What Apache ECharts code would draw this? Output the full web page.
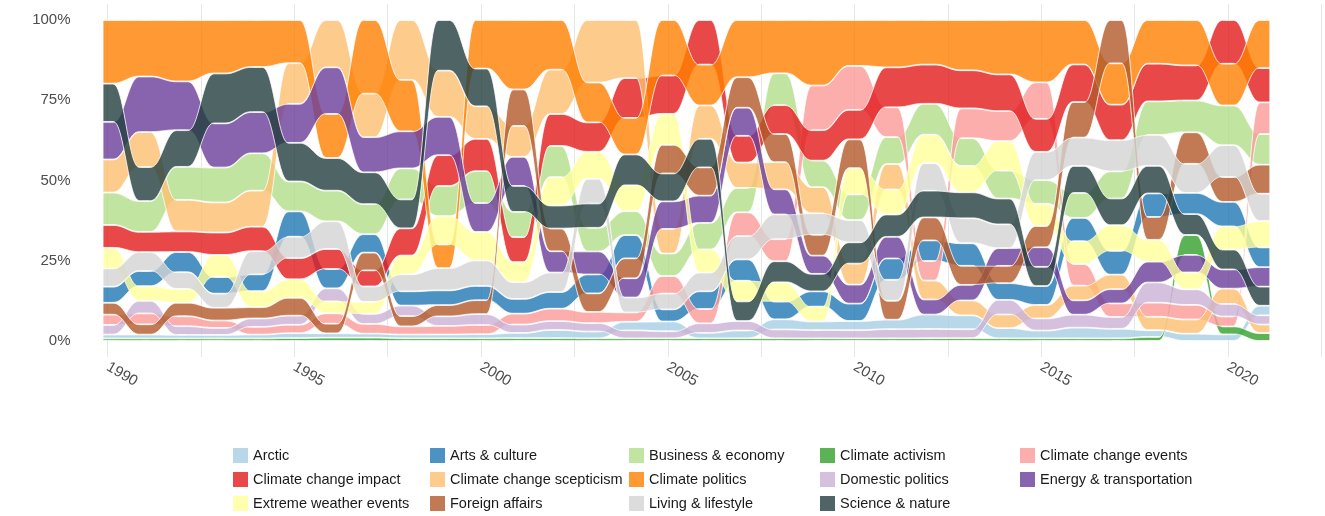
<!DOCTYPE html>
<html>
<head>
<meta charset="utf-8">
<script src="https://cdn.jsdelivr.net/npm/echarts/dist/echarts.min.js"></script>
<style>
html,body{margin:0;padding:0;background:#ffffff;}
#chart{width:1325px;height:516px;}
</style>
</head>
<body>
<div id="chart"></div>
<script>
// ---------------- data ----------------
const years = [1990,1991,1992,1993,1994,1995,1996,1997,1998,1999,2000,2001,2002,2003,2004,2005,
               2006,2007,2008,2009,2010,2011,2012,2013,2014,2015,2016,2017,2018,2019,2020,2021];

const topicNames = ['Arctic','Arts & culture','Business & economy','Climate activism','Climate change events',
  'Climate change impact','Climate change scepticism','Climate politics','Domestic politics',
  'Energy & transportation','Extreme weather events','Foreign affairs','Living & lifestyle','Science & nature'];

// share of coverage per year (%), 1990 ... 2021
const arctic               = [1.2,1.2,1.1,1.1,1.2,1.5,1.3,1.2,1.1,1.1,1.2,1.5,2.3,2.0,2.6,2.9,1.6,2.3,3.0,2.6,2.8,2.8,4.2,4.0,3.0,2.3,3.1,2.8,2.0,2.2,2.0,2.9];
const artsCulture          = [5.0,4.7,6.3,5.2,5.2,7.8,5.8,5.5,4.2,4.3,4.2,4.2,4.7,5.6,7.0,3.6,5.2,6.3,5.2,4.6,5.3,6.3,6.0,6.5,4.9,5.6,6.8,7.0,7.0,6.4,7.4,6.0];
const businessEconomy      = [10.1,9.6,10.3,10.9,11.6,9.2,9.2,9.0,9.1,8.8,9.4,7.2,8.8,7.0,7.2,6.7,7.8,7.2,9.4,8.0,7.8,8.0,9.0,8.0,8.2,7.0,7.3,8.0,10.0,9.6,12.0,9.3];
const climateActivism      = [0.8,0.8,0.8,0.8,0.8,0.9,1.0,1.0,0.8,0.8,0.8,0.8,0.8,0.8,0.8,0.8,0.8,0.8,0.8,0.8,0.8,0.8,0.8,0.8,0.8,0.8,0.8,0.8,1.2,6.0,2.4,2.4];
const climateChangeEvents  = [3.2,3.4,3.1,2.3,2.4,2.6,3.1,2.9,2.4,2.5,2.7,3.1,3.5,3.3,2.8,5.2,4.2,7.0,6.5,13.5,13.4,8.8,5.7,8.6,8.8,10.8,6.3,4.0,4.2,4.4,3.0,9.6];
const climateChangeImpact  = [7.1,6.3,6.4,7.0,7.6,6.5,6.0,4.8,8.0,9.0,9.5,7.1,9.0,8.7,12.0,11.4,13.1,7.9,8.5,9.2,9.0,11.8,11.4,11.0,10.8,9.8,11.0,10.5,11.2,10.6,13.2,10.4];
const climateScepticism    = [10.3,10.9,9.8,9.4,11.2,12.5,14.2,13.0,17.6,13.5,9.6,8.8,12.5,18.5,17.5,7.3,9.8,7.5,8.0,7.9,6.4,7.5,5.5,4.3,4.0,4.0,4.3,4.3,4.0,4.3,4.6,2.6];
const climatePolitics      = [19.8,17.6,19.1,16.7,14.6,13.3,13.2,22.0,15.1,6.9,14.3,19.8,14.0,11.8,11.0,16.5,12.0,16.9,15.7,19.8,14.0,14.0,13.0,14.5,16.0,18.5,13.0,12.2,13.0,13.7,12.6,14.6];
const domesticPolitics     = [3.0,3.9,2.7,2.2,2.6,2.8,3.9,3.0,3.1,2.8,3.2,2.4,2.5,2.5,2.4,2.1,2.8,2.8,2.6,2.5,2.5,2.7,2.7,2.6,4.3,3.6,3.8,3.5,6.0,4.7,3.8,2.8];
const energyTransportation = [11.7,17.3,15.2,13.8,12.8,12.0,14.0,10.5,10.9,11.2,8.5,8.3,6.0,6.8,5.8,8.2,8.0,8.3,7.4,5.5,5.8,6.4,4.4,4.5,5.2,5.8,4.2,4.2,6.2,5.3,5.8,5.9];
const extremeWeather       = [6.4,4.6,4.3,6.9,5.0,5.7,3.6,3.6,5.5,8.3,8.4,5.7,8.0,8.0,7.8,9.2,6.8,6.1,5.7,4.5,8.0,7.4,8.3,7.6,8.7,6.6,6.7,7.6,6.5,5.1,7.0,8.0];
const foreignAffairs       = [3.7,3.2,4.2,4.0,3.5,5.5,2.9,5.3,3.0,3.3,4.1,10.4,6.4,5.5,6.0,8.5,8.3,9.0,8.3,6.3,8.8,5.6,6.7,5.5,5.1,6.3,10.4,12.8,6.8,9.5,7.5,8.8];
const livingLifestyle      = [5.7,5.9,5.2,4.4,7.2,6.6,8.3,4.6,5.0,6.5,7.5,4.8,5.5,7.3,4.5,4.7,5.5,6.9,7.3,6.5,6.8,6.2,8.0,7.2,7.0,8.4,8.3,9.2,9.2,8.8,9.6,8.3];
const scienceNature        = [11.9,10.6,11.4,15.6,14.0,11.9,9.8,9.5,8.5,14.8,11.1,7.4,6.5,7.2,9.3,8.3,8.4,5.8,6.2,5.3,6.5,6.6,7.8,7.5,7.6,5.7,7.9,7.9,8.2,6.3,6.0,5.8];

const yTicks = ['0%','25%','50%','75%','100%'];

// ---------------- styles ----------------
const palette = ['rgba(166,206,227,0.8)','rgba(31,120,180,0.8)','rgba(178,223,138,0.8)','rgba(51,160,44,0.8)',
  'rgba(251,154,153,0.8)','rgba(227,26,28,0.8)','rgba(253,191,111,0.8)','rgba(255,127,0,0.8)',
  'rgba(202,178,214,0.8)','rgba(106,61,154,0.8)','rgba(255,255,153,0.8)','rgba(177,89,40,0.8)',
  'rgba(211,211,211,0.8)','rgba(35,63,63,0.8)'];

const topicValues = [arctic, artsCulture, businessEconomy, climateActivism, climateChangeEvents,
  climateChangeImpact, climateScepticism, climatePolitics, domesticPolitics, energyTransportation,
  extremeWeather, foreignAffairs, livingLifestyle, scienceNature];

// ranked stacking: largest share on top each year
const nY = years.length, nT = topicNames.length;
const tops = [], bots = [];
for (let i = 0; i < nY; i++) {
  let sum = 0;
  for (let k = 0; k < nT; k++) sum += topicValues[k][i];
  const order = topicNames.map((_, k) => k).sort((a, b) => topicValues[b][i] - topicValues[a][i]);
  let cur = 100;
  tops[i] = []; bots[i] = [];
  order.forEach(k => {
    const h = topicValues[k][i] / sum * 100;
    tops[i][k] = cur; bots[i][k] = cur - h; cur -= h;
  });
}

const HALF = 0.12, STEPS = 28, INSET = 0.12;
const ease = u => u * u * u * (u * (u * 6 - 15) + 10);

function makeRender(k) {
  return function (params, api) {
    const upper = [], lower = [];
    for (let i = 0; i < nY; i++) {
      const t = tops[i][k] - INSET, b = bots[i][k] + INSET;
      upper.push(api.coord([years[i] - HALF, t]), api.coord([years[i] + HALF, t]));
      lower.push(api.coord([years[i] - HALF, b]), api.coord([years[i] + HALF, b]));
      if (i < nY - 1) {
        const xa = years[i] + HALF, xb = years[i + 1] - HALF;
        const t2 = tops[i + 1][k] - INSET, b2 = bots[i + 1][k] + INSET;
        for (let s = 1; s < STEPS; s++) {
          const u = s / STEPS, e = ease(u), x = xa + (xb - xa) * u;
          upper.push(api.coord([x, t + (t2 - t) * e]));
          lower.push(api.coord([x, b + (b2 - b) * e]));
        }
      }
    }
    return {
      type: 'polygon',
      shape: { points: upper.concat(lower.reverse()) },
      style: { fill: palette[k], stroke: '#ffffff', lineWidth: 0.8 }
    };
  };
}

const series = topicNames.map((name, k) => ({
  name: name,
  type: 'custom',
  coordinateSystem: 'cartesian2d',
  xAxisIndex: 0, yAxisIndex: 0,
  color: palette[k],
  itemStyle: { color: palette[k] },
  data: [[1990, 50]],
  encode: { x: 0, y: 1 },
  renderItem: makeRender(k),
  silent: true
}));

const FONT = "'Liberation Sans', Arial, Helvetica, sans-serif";
const legendCols = [
  ['Arctic','Climate change impact','Extreme weather events'],
  ['Arts & culture','Climate change scepticism','Foreign affairs'],
  ['Business & economy','Climate politics','Living & lifestyle'],
  ['Climate activism','Domestic politics','Science & nature'],
  ['Climate change events','Energy & transportation']
];
const legendLeft = [233, 430, 629, 820, 1020];
const legends = legendCols.map((col, c) => ({
  data: col,
  orient: 'vertical',
  left: legendLeft[c],
  top: 448,
  padding: 0,
  itemWidth: 15,
  itemHeight: 15,
  itemGap: 9,
  icon: 'rect',
  selectedMode: false,
  textStyle: { fontFamily: FONT, fontSize: 14.5, color: '#1a1a1a' }
}));

const chart = echarts.init(document.getElementById('chart'), null, { renderer: 'canvas' });
chart.setOption({
  animation: false,
  backgroundColor: '#ffffff',
  grid: [
    { left: 107.5, right: 3.6, top: 20, bottom: 175 },
    { left: 107.5, right: 3.6, top: 4, bottom: 159 }
  ],
  xAxis: [
    {
      type: 'value', gridIndex: 0, min: 1990, max: 2022.5, interval: 2.5,
      axisLine: { show: false }, axisTick: { show: false }, splitLine: { show: false },
      axisLabel: {
        rotate: -30, margin: 25, fontFamily: FONT, fontSize: 15, color: '#4d4d4d',
        formatter: v => (v % 5 === 0 && v <= 2020) ? String(v) : ''
      }
    },
    {
      type: 'value', gridIndex: 1, min: 1990, max: 2022.5, interval: 2.5,
      axisLine: { show: false }, axisTick: { show: false }, axisLabel: { show: false },
      splitLine: { show: true, lineStyle: { color: '#e6e6e6', width: 1 } }
    }
  ],
  yAxis: [
    {
      type: 'value', gridIndex: 0, min: 0, max: 100, interval: 25,
      axisLine: { show: false }, axisTick: { show: false }, splitLine: { show: false },
      axisLabel: {
        margin: 37, fontFamily: FONT, fontSize: 15, color: '#4d4d4d',
        formatter: v => yTicks[Math.round(v / 25)]
      }
    },
    { type: 'value', gridIndex: 1, min: 0, max: 1, show: false, splitLine: { show: false } }
  ],
  legend: legends,
  series: series
});
</script>
</body>
</html>
